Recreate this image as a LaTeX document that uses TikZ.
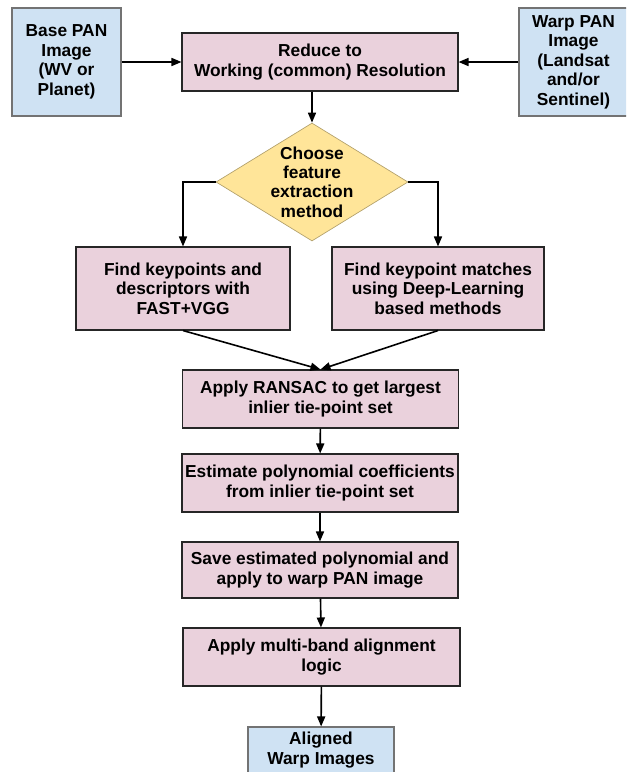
\documentclass[tikz,border=0pt]{standalone}
\usepackage{fontspec}
\setmainfont{Liberation Sans}
\usetikzlibrary{arrows.meta,shapes.geometric}
\definecolor{procPink}{HTML}{EAD1DC}
\definecolor{srcBlue}{HTML}{CFE2F3}
\definecolor{choiceYellow}{HTML}{FFE599}

\begin{document}
\begin{tikzpicture}[
  x=0.75pt, y=-0.75pt,
  font=\bfseries\fontsize{13}{14.6}\selectfont,
  proc/.style={draw=black!85, line width=0.8pt, fill=procPink, align=center,
    inner sep=2pt, minimum width=207pt, minimum height=43.5pt},
  src/.style={draw=black!55, line width=0.8pt, fill=srcBlue, align=center,
    inner sep=2pt, minimum width=81.75pt, minimum height=81pt},
  choice/.style={diamond, draw=choiceYellow!70!black, line width=0.5pt, fill=choiceYellow,
    inner sep=0pt, minimum width=144pt, minimum height=88.5pt},
  flow/.style={-{Triangle[length=7.5pt,width=6pt]}, line width=1.2pt},
]
\useasboundingbox (0,0) rectangle (626,772);
\clip (0,0) rectangle (626,772);
\node[src] (base) at (66.5,62) {Base PAN\\Image\\(WV or\\Planet)};
\node[src] (warp) at (573.5,62) {Warp PAN\\Image\\(Landsat\\and/or\\Sentinel)};
\node[proc] (reduce) at (320,62) {Reduce to\\Working (common) Resolution};
\node[choice, label={[align=center]center:Choose\\feature\\extraction\\method}] (choose) at (312,182) {};
\node[proc, minimum width=160.5pt, minimum height=62.25pt] (fast) at (183,288.5) {Find keypoints and\\descriptors with\\FAST+VGG};
\node[proc, minimum width=159pt, minimum height=62.25pt] (dl) at (438,288.5) {Find keypoint matches\\using Deep-Learning\\based methods};
\node[proc] (ransac) at (320.5,399) {Apply RANSAC to get largest\\inlier tie-point set};
\node[proc] (est) at (320,483) {Estimate polynomial coefficients\\from inlier tie-point set};
\node[proc, minimum height=42pt] (save) at (320,570) {Save estimated polynomial and\\apply to warp PAN image};
\node[proc, minimum width=207.75pt] (multi) at (321.5,657) {Apply multi-band alignment\\logic};
\node[src, minimum width=109.5pt, minimum height=34.5pt] (out) at (321,750) {Aligned\\Warp Images};
\draw[flow] (base) -- (reduce);
\draw[flow] (warp) -- (reduce);
\draw[flow] (reduce.south -| choose.north) -- (choose.north);
\draw[flow] (choose.west) -| (fast.north);
\draw[flow] (choose.east) -| (dl.north);
\draw[flow] (fast.south) -- (ransac.north);
\draw[flow] (dl.south) -- (ransac.north);
\draw[flow] (ransac) -- (est);
\draw[flow] (est) -- (save);
\draw[flow] (save) -- (multi);
\draw[flow] (multi) -- (out);
\end{tikzpicture}
\end{document}
